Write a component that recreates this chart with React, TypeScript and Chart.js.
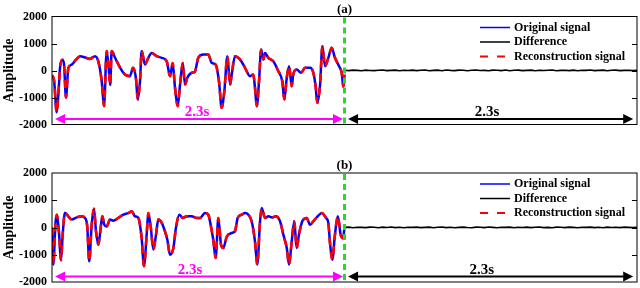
import React, { useEffect, useRef } from 'react';
import { Chart, registerables } from 'chart.js';
Chart.register(...registerables);

// ---------- data ----------
const timesA = [0, 0.016, 0.037, 0.05, 0.063, 0.081, 0.094, 0.11, 0.128, 0.155, 0.189, 0.22, 0.273, 0.299, 0.338, 0.364, 0.391, 0.409, 0.43, 0.448, 0.458, 0.469, 0.495, 0.535, 0.574, 0.613, 0.637, 0.661, 0.674, 0.692, 0.705, 0.731, 0.757, 0.784, 0.823, 0.863, 0.902, 0.928, 0.949, 0.967, 0.988, 1.007, 1.028, 1.046, 1.064, 1.099, 1.124, 1.15, 1.19, 1.229, 1.256, 1.287, 1.313, 1.334, 1.355, 1.379, 1.4, 1.413, 1.439, 1.478, 1.518, 1.557, 1.583, 1.596, 1.61, 1.628, 1.644, 1.662, 1.675, 1.701, 1.74, 1.78, 1.811, 1.827, 1.846, 1.864, 1.885, 1.897, 1.924, 1.958, 1.99, 2.029, 2.055, 2.074, 2.086, 2.108, 2.126, 2.147, 2.173, 2.199, 2.225, 2.257, 2.278, 2.291, 2.3];
const originalA = [-180, -350, -1550, -900, 100, 400, 250, -1000, 80, 220, 400, 530, 460, 430, 530, 340, -400, -1320, 720, -30, -540, 720, 480, 110, -150, -210, 100, -330, -1070, -400, 720, 220, 470, 650, 530, 470, 340, -210, 280, -630, -1320, -520, 280, -520, -270, -85, -40, 470, 590, 590, 280, 220, -400, -1380, -770, 530, -520, -150, 530, 410, 100, -210, -150, -630, -1320, -400, 780, 410, 650, 470, 340, -30, -400, -1070, -270, 160, -580, -150, 40, -85, 100, 100, -85, -630, -1200, -520, 900, 160, 470, 840, 470, 160, -85, -600, -150];
const reconstructionA = originalA;

const timesB = [0, 0.01, 0.028, 0.039, 0.055, 0.071, 0.084, 0.102, 0.128, 0.155, 0.194, 0.233, 0.259, 0.277, 0.293, 0.312, 0.33, 0.346, 0.364, 0.377, 0.396, 0.411, 0.43, 0.456, 0.482, 0.521, 0.561, 0.6, 0.627, 0.653, 0.679, 0.705, 0.723, 0.745, 0.757, 0.776, 0.797, 0.818, 0.836, 0.863, 0.888, 0.907, 0.928, 0.954, 0.975, 1.001, 1.028, 1.059, 1.099, 1.138, 1.164, 1.203, 1.229, 1.25, 1.268, 1.287, 1.308, 1.329, 1.347, 1.374, 1.413, 1.439, 1.46, 1.492, 1.518, 1.544, 1.57, 1.596, 1.614, 1.636, 1.649, 1.675, 1.701, 1.732, 1.759, 1.793, 1.819, 1.846, 1.864, 1.885, 1.905, 1.924, 1.942, 1.968, 2.003, 2.029, 2.055, 2.089, 2.121, 2.155, 2.173, 2.186, 2.204, 2.225, 2.247, 2.27, 2.288, 2.3];
const originalB = [0, -1360, 200, 470, -200, -1200, -260, 540, 410, 290, 370, 410, 350, 40, -1240, 100, 690, -140, -630, -260, 410, 100, 40, 290, 250, 350, 470, 530, 590, 410, 350, -390, -1420, -220, 530, 40, -810, -260, 290, 170, -140, -450, -1000, -760, 0, 470, 350, 410, 410, 350, 350, 530, 470, 40, -450, -1120, 350, -630, -750, -340, -200, -140, 350, 470, 530, 470, 230, -510, -1360, 230, 720, 350, 410, 370, 410, 230, -260, -750, -1360, -510, 230, -750, -260, 230, 350, 100, 230, 410, 530, 350, 170, -570, -1180, -260, 410, -260, -390, 0];
const reconstructionB = originalB;

const differenceA = [8, -4, 12, 5, -8, 14, 2, -6, 10, 16, -5, 6, 12, -10, 8, 0, 15, -3, 10, 18, -7, 5, 12, -9, 16, 3, -5, 14, 8, -11, 10, 20, 0, 6, -7, 14, 10, -3, 16, -9, 8, 12, -5, 3, 14, -7, 10, 0, 12, 18, -9, 5, 8, -3, 14, -11, 10, 5, 16, -5, 3, 12, -7, 8, 14, -3, 5, 10, -5, 8];
const differenceB = [5, 12, -7, 10, 3, -5, 14, 8, -9, 12, 0, 16, -3, 8, -11, 10, 5, 14, -5, 3, 12, -9, 8, 18, -3, 10, -7, 5, 14, 0, -9, 12, 8, -5, 16, 3, -7, 10, 5, 14, -11, 8, 0, 12, -5, 10, 16, -3, 5, -9, 14, 8, -5, 12, 3, -7, 10, 5, 14, -3, 8, -9, 12, 0, 10, -5, 14, 5, -3, 8];

const yTickValues = [-2000, -1000, 0, 1000, 2000];
const panelTitles = ['(a)', '(b)'];
const legendLabels = ['Original signal', 'Difference', 'Reconstruction signal'];
const segmentLabel = '2.3s';
const splitTime = 2.3;
const totalTime = 4.6;
const arrowValue = -1800;
const leftArrowSpan = [0.024, 2.288];
const rightArrowSpan = [2.328, 4.57];
const labelTimesA = [1.14, 3.42];
const labelTimesB = [1.085, 3.38];

// ---------- styles ----------
const SERIF = '"Liberation Serif", "Times New Roman", serif';
const BLUE = '#0000ff';
const RED = '#ff0000';
const MAGENTA = '#ff00ff';
const GREEN = '#22dd22';

function toPoints(t: number[], v: number[]) {
  return t.map((x, i) => ({ x, y: v[i] }));
}
function diffPoints(v: number[]) {
  const step = (totalTime - splitTime) / (v.length - 1);
  return v.map((y, i) => ({ x: splitTime + i * step, y }));
}

function drawDoubleArrow(ctx: CanvasRenderingContext2D, x1: number, x2: number, y: number, color: string) {
  const head = 10;
  const half = 5;
  ctx.strokeStyle = color;
  ctx.fillStyle = color;
  ctx.lineWidth = 2;
  ctx.setLineDash([]);
  ctx.beginPath();
  ctx.moveTo(x1 + head - 1, y);
  ctx.lineTo(x2 - head + 1, y);
  ctx.stroke();
  ctx.beginPath();
  ctx.moveTo(x1, y);
  ctx.lineTo(x1 + head, y - half);
  ctx.lineTo(x1 + head, y + half);
  ctx.closePath();
  ctx.fill();
  ctx.beginPath();
  ctx.moveTo(x2, y);
  ctx.lineTo(x2 - head, y - half);
  ctx.lineTo(x2 - head, y + half);
  ctx.closePath();
  ctx.fill();
}

function makeOverlay(title: string, labelTimes: number[]) {
  return {
    id: 'overlay',
    afterDatasetsDraw(chart: any) {
      const { ctx, chartArea: a, scales } = chart;
      const xs = scales.x;
      const ys = scales.y;
      ctx.save();
      // divider
      const xd = xs.getPixelForValue(splitTime);
      ctx.strokeStyle = GREEN;
      ctx.lineWidth = 3;
      ctx.setLineDash([6, 4]);
      ctx.beginPath();
      ctx.moveTo(xd, a.top + 1);
      ctx.lineTo(xd, a.bottom);
      ctx.stroke();
      ctx.setLineDash([]);
      // arrows
      const ya = ys.getPixelForValue(arrowValue);
      drawDoubleArrow(ctx, xs.getPixelForValue(leftArrowSpan[0]), xs.getPixelForValue(leftArrowSpan[1]), ya, MAGENTA);
      drawDoubleArrow(ctx, xs.getPixelForValue(rightArrowSpan[0]), xs.getPixelForValue(rightArrowSpan[1]), ya, '#000');
      ctx.font = `bold 15px ${SERIF}`;
      ctx.textAlign = 'center';
      ctx.textBaseline = 'alphabetic';
      ctx.fillStyle = MAGENTA;
      ctx.fillText(segmentLabel, xs.getPixelForValue(labelTimes[0]), ya - 3);
      ctx.fillStyle = '#000';
      ctx.fillText(segmentLabel, xs.getPixelForValue(labelTimes[1]), ya - 3);
      // box
      ctx.strokeStyle = '#000';
      ctx.lineWidth = 1;
      ctx.strokeRect(a.left, a.top, a.right - a.left, a.bottom - a.top);
      // inside ticks (left and right)
      yTickValues.forEach((v) => {
        if (v === ys.min || v === ys.max) return;
        const yy = Math.round(ys.getPixelForValue(v)) + 0.5;
        ctx.beginPath();
        ctx.moveTo(a.left, yy);
        ctx.lineTo(a.left + 5, yy);
        ctx.moveTo(a.right - 5, yy);
        ctx.lineTo(a.right, yy);
        ctx.stroke();
      });
      // title
      ctx.font = `bold 13px ${SERIF}`;
      ctx.textBaseline = 'middle';
      ctx.fillStyle = '#000';
      ctx.fillText(title, (a.left + a.right) / 2, a.top - 7);
      // legend
      const styles = [
        { color: BLUE, dash: [] as number[], width: 1.5 },
        { color: '#000', dash: [] as number[], width: 1.5 },
        { color: RED, dash: [8, 9], width: 2 },
      ];
      ctx.font = `bold 12px ${SERIF}`;
      ctx.textAlign = 'left';
      legendLabels.forEach((lab, i) => {
        const yy = a.top + 11 + i * 14.5;
        ctx.strokeStyle = styles[i].color;
        ctx.lineWidth = styles[i].width;
        ctx.setLineDash(styles[i].dash);
        ctx.beginPath();
        ctx.moveTo(a.right - 157, yy);
        ctx.lineTo(a.right - 127, yy);
        ctx.stroke();
        ctx.setLineDash([]);
        ctx.fillStyle = '#000';
        ctx.fillText(lab, a.right - 123, yy);
      });
      ctx.restore();
    },
  };
}

function buildConfig(idx: number): any {
  const orig = idx === 0 ? toPoints(timesA, originalA) : toPoints(timesB, originalB);
  const recon = idx === 0 ? toPoints(timesA, reconstructionA) : toPoints(timesB, reconstructionB);
  const diff = diffPoints(idx === 0 ? differenceA : differenceB);
  const pad = idx === 0 ? { top: 16.5, bottom: 19.5, left: 0, right: 3 } : { top: 29, bottom: 6, left: 0, right: 3 };
  return {
    type: 'line',
    data: {
      datasets: [
        { label: legendLabels[2], data: recon, borderColor: RED, borderWidth: 2.6, borderDash: [8, 6], pointRadius: 0, fill: false, cubicInterpolationMode: 'monotone', order: 0 },
        { label: legendLabels[0], data: orig, borderColor: BLUE, borderWidth: 2.5, pointRadius: 0, fill: false, cubicInterpolationMode: 'monotone', order: 1 },
        { label: legendLabels[1], data: diff, borderColor: '#000', borderWidth: 1.6, pointRadius: 0, fill: false, tension: 0, order: 2 },
      ],
    },
    options: {
      animation: false,
      responsive: false,
      devicePixelRatio: 1,
      events: [],
      layout: { padding: pad },
      plugins: { legend: { display: false }, tooltip: { enabled: false }, title: { display: false } },
      scales: {
        x: { type: 'linear', min: 0, max: totalTime, display: false },
        y: {
          type: 'linear',
          min: -2000,
          max: 2000,
          afterBuildTicks: (s: any) => {
            s.ticks = yTickValues.map((v) => ({ value: v }));
          },
          ticks: { padding: 5, color: '#000', font: { family: SERIF, size: 12, weight: 'bold' }, callback: (v: any) => String(v) },
          grid: { display: false, drawTicks: false },
          border: { display: false },
          title: { display: true, text: 'Amplitude', color: '#000', font: { family: SERIF, size: 14, weight: 'bold' }, padding: { top: 1, bottom: 0 } },
          afterFit: (s: any) => {
            s.width = 52;
            s.paddingTop = 0;
            s.paddingBottom = 0;
          },
        },
      },
    },
    plugins: [makeOverlay(panelTitles[idx], idx === 0 ? labelTimesA : labelTimesB)],
  };
}

function Panel({ idx }: { idx: number }) {
  const ref = useRef<HTMLCanvasElement>(null);
  useEffect(() => {
    const chart = new Chart(ref.current as HTMLCanvasElement, buildConfig(idx));
    return () => chart.destroy();
  }, [idx]);
  return <canvas ref={ref} width={640} height={144} style={{ display: 'block', width: 640, height: 144 }} />;
}

export default function App() {
  return (
    <div style={{ position: 'fixed', left: 0, top: 0, width: 640, height: 288, overflow: 'hidden', background: '#fff' }}>
      <Panel idx={0} />
      <Panel idx={1} />
    </div>
  );
}
